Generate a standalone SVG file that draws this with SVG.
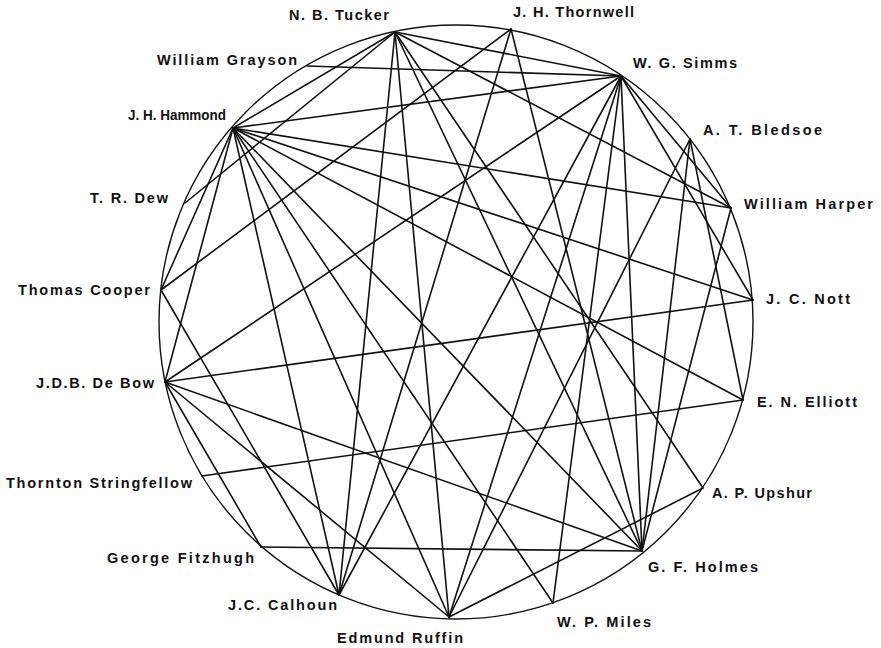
<svg xmlns="http://www.w3.org/2000/svg" width="881" height="648" viewBox="0 0 881 648">
<style>
text{font-family:"Liberation Sans",Arial,sans-serif;font-weight:bold;font-size:14.5px;fill:#111}
.e line{stroke:#111;stroke-width:1.6;stroke-linecap:round}
.ring{fill:none;stroke:#111;stroke-width:1.4}
</style>
<rect width="881" height="648" fill="#fff"/>
<circle class="ring" cx="456" cy="322" r="297"/>
<g id="connectors" class="e">
<line x1="307" y1="66" x2="621" y2="76"/>
<line x1="395" y1="32" x2="233" y2="128"/>
<line x1="395" y1="32" x2="185" y2="203"/>
<line x1="395" y1="32" x2="621" y2="76"/>
<line x1="395" y1="32" x2="731" y2="208"/>
<line x1="395" y1="32" x2="703" y2="488"/>
<line x1="395" y1="32" x2="642" y2="551"/>
<line x1="395" y1="32" x2="449" y2="617"/>
<line x1="395" y1="32" x2="339" y2="595"/>
<line x1="233" y1="128" x2="621" y2="76"/>
<line x1="233" y1="128" x2="731" y2="208"/>
<line x1="233" y1="128" x2="753" y2="300"/>
<line x1="233" y1="128" x2="743" y2="400"/>
<line x1="233" y1="128" x2="642" y2="551"/>
<line x1="233" y1="128" x2="553" y2="603"/>
<line x1="233" y1="128" x2="449" y2="617"/>
<line x1="233" y1="128" x2="339" y2="595"/>
<line x1="233" y1="128" x2="165" y2="382"/>
<line x1="233" y1="128" x2="161" y2="290"/>
<line x1="511" y1="29" x2="161" y2="290"/>
<line x1="511" y1="29" x2="339" y2="595"/>
<line x1="511" y1="29" x2="642" y2="551"/>
<line x1="621" y1="76" x2="165" y2="382"/>
<line x1="621" y1="76" x2="339" y2="595"/>
<line x1="621" y1="76" x2="449" y2="617"/>
<line x1="621" y1="76" x2="553" y2="603"/>
<line x1="621" y1="76" x2="642" y2="551"/>
<line x1="621" y1="76" x2="731" y2="208"/>
<line x1="621" y1="76" x2="753" y2="300"/>
<line x1="690" y1="139" x2="449" y2="617"/>
<line x1="690" y1="139" x2="642" y2="551"/>
<line x1="690" y1="139" x2="743" y2="400"/>
<line x1="731" y1="208" x2="642" y2="551"/>
<line x1="165" y1="382" x2="753" y2="300"/>
<line x1="165" y1="382" x2="642" y2="551"/>
<line x1="165" y1="382" x2="449" y2="617"/>
<line x1="165" y1="382" x2="261" y2="547"/>
<line x1="161" y1="290" x2="339" y2="595"/>
<line x1="202" y1="476" x2="743" y2="400"/>
<line x1="261" y1="547" x2="642" y2="551"/>
<line x1="449" y1="617" x2="703" y2="488"/>
</g>
<g id="n-tucker"><text x="289" y="20" textLength="100">N. B. Tucker</text></g>
<g id="n-thornwell"><text x="513" y="17" textLength="121">J. H. Thornwell</text></g>
<g id="n-simms"><text x="633" y="68" textLength="104">W. G. Simms</text></g>
<g id="n-bledsoe"><text x="703" y="135" textLength="119">A. T. Bledsoe</text></g>
<g id="n-harper"><text x="744" y="209" textLength="129">William Harper</text></g>
<g id="n-nott"><text x="766" y="304" textLength="84">J. C. Nott</text></g>
<g id="n-elliott"><text x="757" y="407" textLength="100">E. N. Elliott</text></g>
<g id="n-upshur"><text x="712" y="498" textLength="100">A. P. Upshur</text></g>
<g id="n-holmes"><text x="648" y="572" textLength="110">G. F. Holmes</text></g>
<g id="n-miles"><text x="557" y="627" textLength="94">W. P. Miles</text></g>
<g id="n-ruffin"><text x="337" y="643" textLength="126">Edmund Ruffin</text></g>
<g id="n-calhoun"><text x="228" y="610" textLength="109">J.C. Calhoun</text></g>
<g id="n-fitzhugh"><text x="107" y="563" textLength="147">George Fitzhugh</text></g>
<g id="n-stringfellow"><text x="6" y="488" textLength="186">Thornton Stringfellow</text></g>
<g id="n-debow"><text x="36" y="388" textLength="118">J.D.B. De Bow</text></g>
<g id="n-cooper"><text x="18" y="295" textLength="132">Thomas Cooper</text></g>
<g id="n-dew"><text x="90" y="203" textLength="78">T. R. Dew</text></g>
<g id="n-hammond"><text x="128" y="120" textLength="98" lengthAdjust="spacingAndGlyphs">J. H. Hammond</text></g>
<g id="n-grayson"><text x="157" y="65" textLength="140">William Grayson</text></g>
</svg>
